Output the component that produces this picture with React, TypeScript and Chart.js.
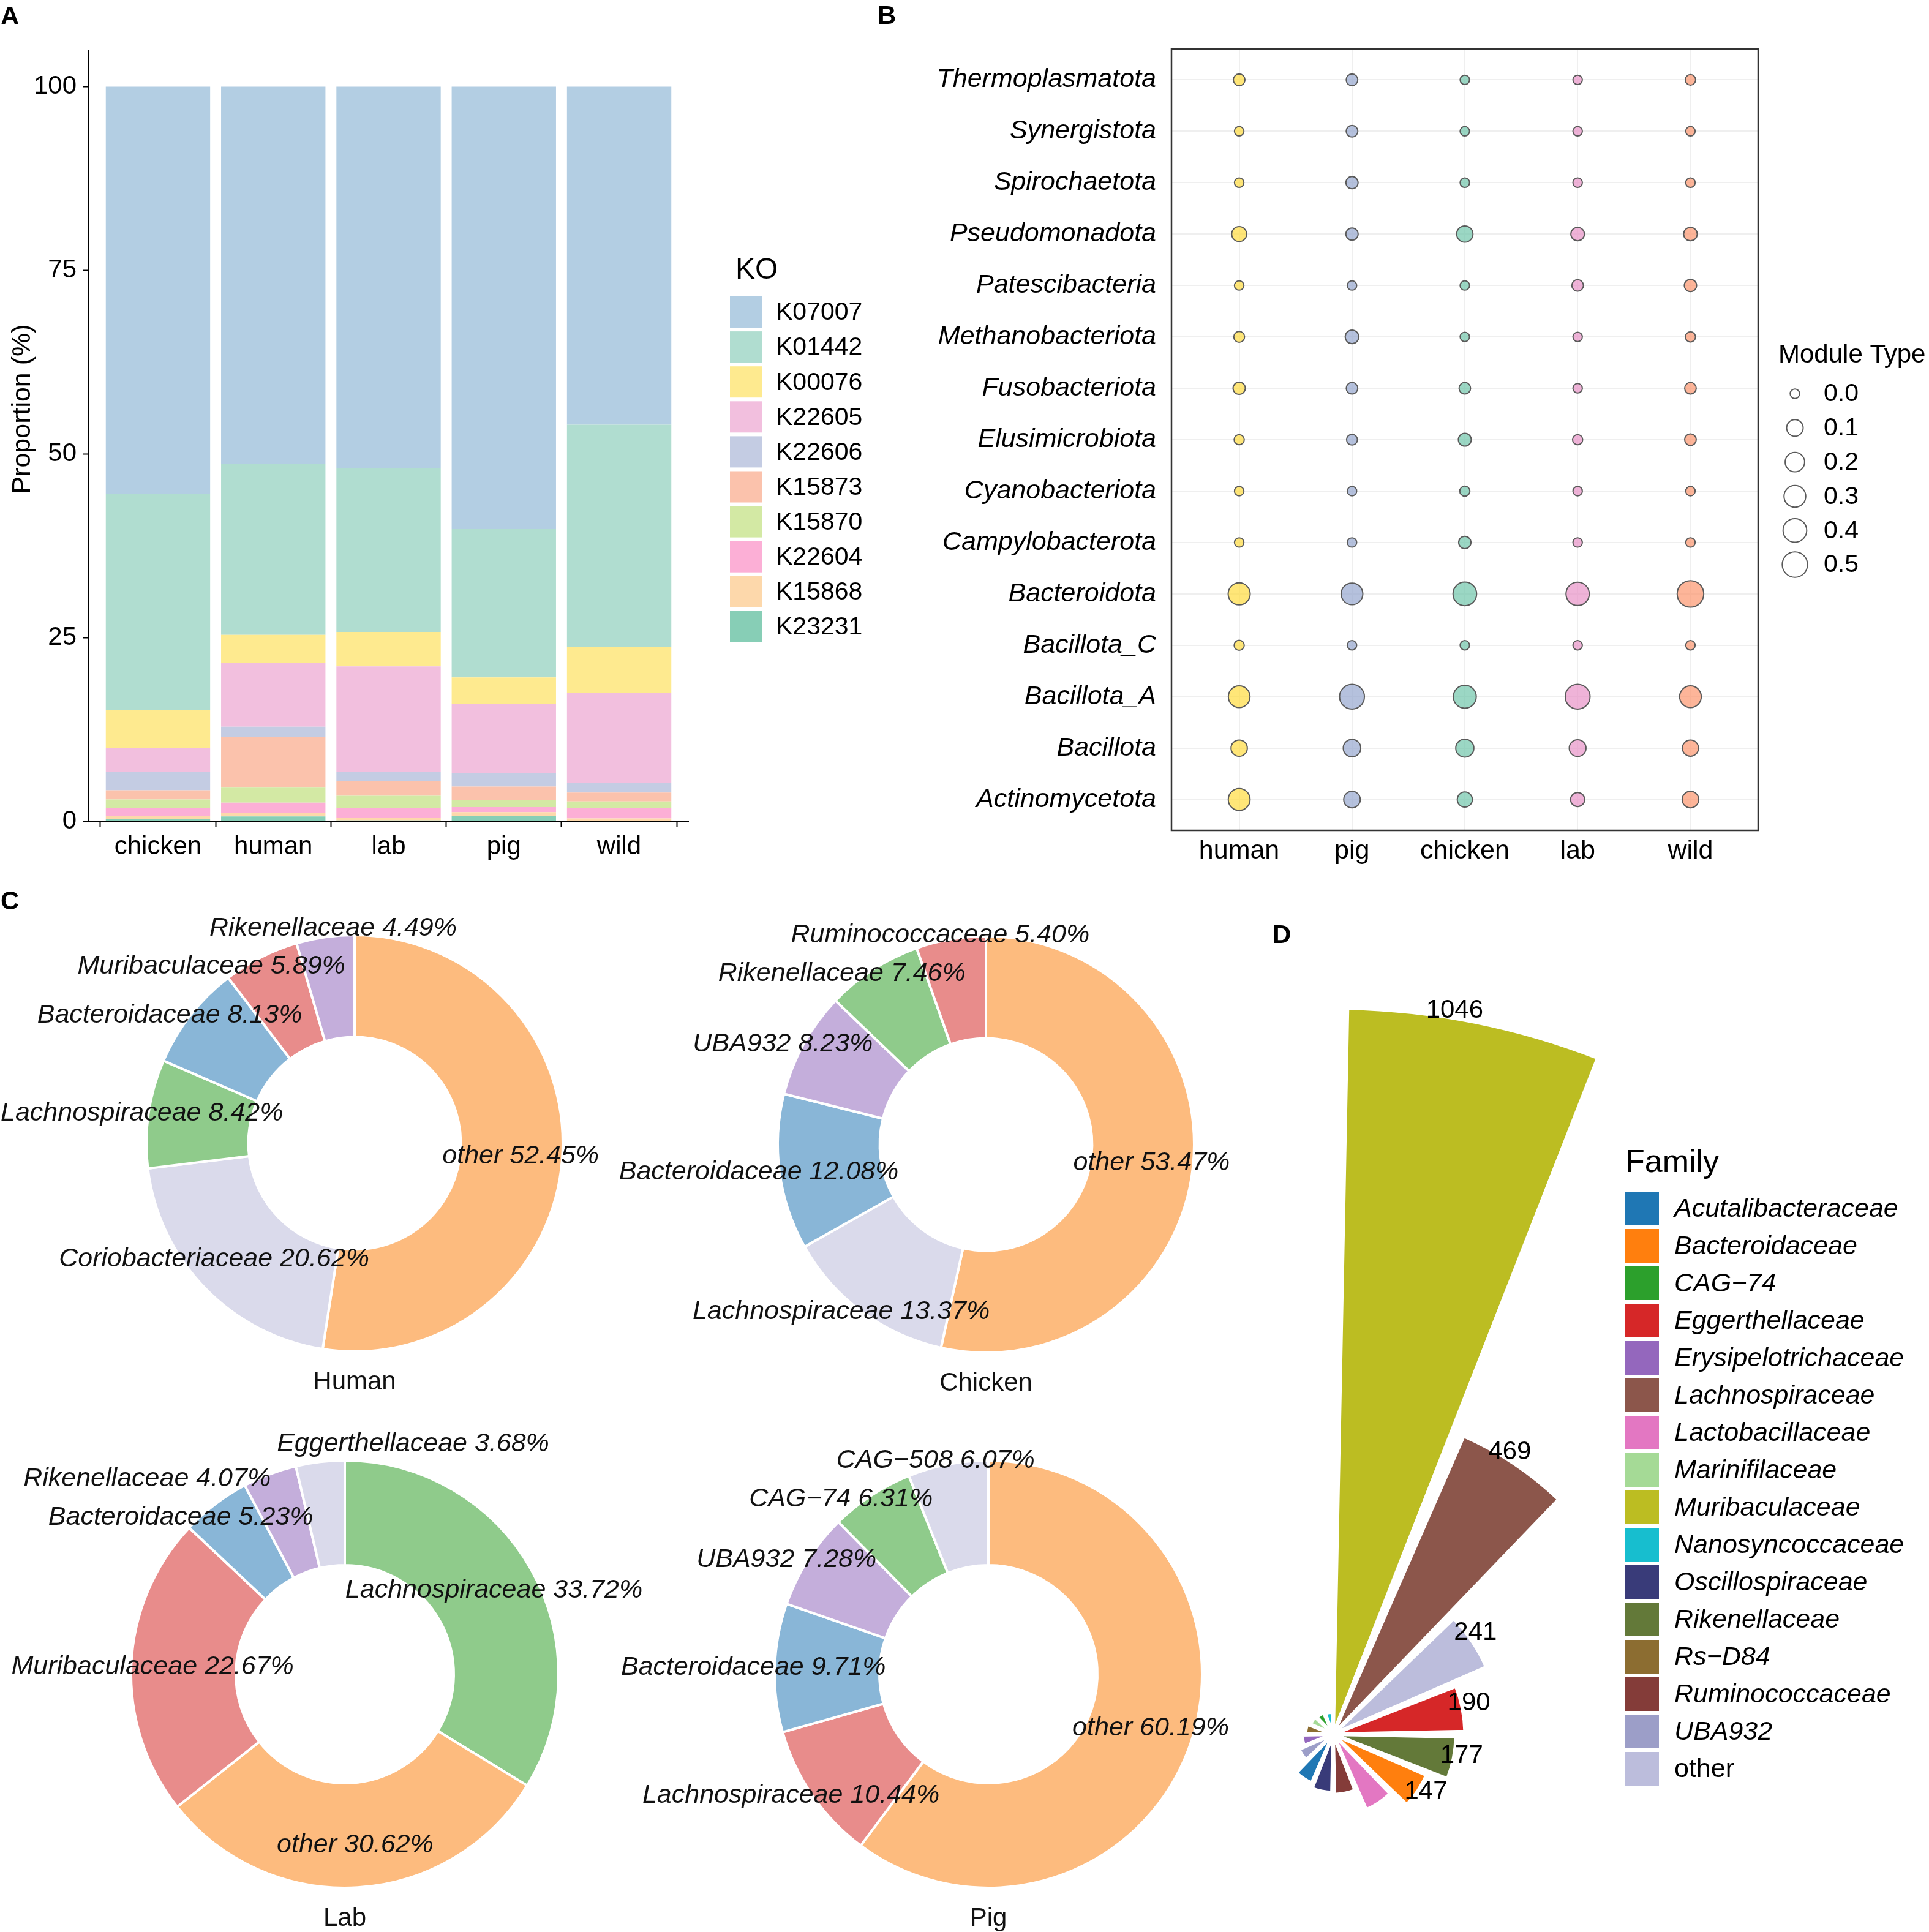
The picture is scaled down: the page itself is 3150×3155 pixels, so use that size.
import React, { useEffect, useRef } from "react";
import { Chart, registerables } from "chart.js";

Chart.register(...registerables);

const FONT = "'Liberation Sans', Arial, Helvetica, sans-serif";

// ---------------- Panel A : KO proportions ----------------
const A_HOSTS = ["chicken", "human", "lab", "pig", "wild"];
const KO_NAMES = ["K07007", "K01442", "K00076", "K22605", "K22606", "K15873", "K15870", "K22604", "K15868", "K23231"];
const K07007 = [55.4, 51.3, 51.9, 60.2, 46.0];
const K01442 = [29.4, 23.3, 22.3, 20.2, 30.2];
const K00076 = [5.2, 3.8, 4.7, 3.6, 6.3];
const K22605 = [3.2, 8.7, 14.36, 9.44, 12.28];
const K22606 = [2.55, 1.4, 1.19, 1.81, 1.28];
const K15873 = [1.25, 6.9, 2.05, 1.81, 1.22];
const K15870 = [1.2, 2.04, 1.67, 0.98, 0.92];
const K22604 = [1.05, 1.43, 1.33, 0.68, 1.38];
const K15868 = [0.45, 0.45, 0.36, 0.53, 0.3];
const K23231 = [0.3, 0.68, 0.14, 0.75, 0.12];
const KO_SERIES = [K07007, K01442, K00076, K22605, K22606, K15873, K15870, K22604, K15868, K23231];
const KO_COLORS = ["#B3CEE3", "#B0DDD0", "#FEEA8F", "#F2BFDE", "#C4CCE3", "#FBC2AC", "#D3E9A4", "#FCAFD6", "#FDD8AB", "#87CEB6"];
const A_Y_TICKS = [0, 25, 50, 75, 100];

// ---------------- Panel B : module type bubbles ----------------
const B_HOSTS = ["human", "pig", "chicken", "lab", "wild"];
const PHYLA = [
  "Thermoplasmatota", "Synergistota", "Spirochaetota", "Pseudomonadota", "Patescibacteria",
  "Methanobacteriota", "Fusobacteriota", "Elusimicrobiota", "Cyanobacteriota", "Campylobacterota",
  "Bacteroidota", "Bacillota_C", "Bacillota_A", "Bacillota", "Actinomycetota",
];
const B_HUMAN = [0.01, 0.0, 0.0, 0.06, 0.0, 0.004, 0.016, 0.001, 0.0, 0.0, 0.315, 0.001, 0.297, 0.093, 0.303];
const B_PIG = [0.01, 0.01, 0.015, 0.016, 0.0, 0.034, 0.009, 0.004, 0.0, 0.0, 0.297, 0.0, 0.47, 0.129, 0.1];
const B_CHICKEN = [0.0, 0.0, 0.0, 0.093, 0.0, 0.0, 0.009, 0.024, 0.001, 0.016, 0.4, 0.0, 0.36, 0.15, 0.063];
const B_LAB = [0.0, 0.0, 0.0, 0.034, 0.009, 0.0, 0.0, 0.001, 0.0, 0.0, 0.379, 0.0, 0.47, 0.107, 0.043];
const B_WILD = [0.002, 0.0, 0.0, 0.034, 0.016, 0.001, 0.009, 0.009, 0.0, 0.0, 0.582, 0.0, 0.297, 0.09, 0.1];
const B_SERIES = [B_HUMAN, B_PIG, B_CHICKEN, B_LAB, B_WILD];
const B_FILLS = ["rgba(255,217,47,0.65)", "rgba(141,160,203,0.65)", "rgba(102,194,165,0.65)", "rgba(231,138,195,0.65)", "rgba(252,141,98,0.65)"];
const SIZE_BREAKS = [0, 0.1, 0.2, 0.3, 0.4, 0.5];

// ---------------- Panel C : family donuts ----------------
const HUMAN_FAMILIES = ["other", "Coriobacteriaceae", "Lachnospiraceae", "Bacteroidaceae", "Muribaculaceae", "Rikenellaceae"];
const HUMAN_SHARE = [52.45, 20.62, 8.42, 8.13, 5.89, 4.49];
const CHICKEN_FAMILIES = ["other", "Lachnospiraceae", "Bacteroidaceae", "UBA932", "Rikenellaceae", "Ruminococcaceae"];
const CHICKEN_SHARE = [53.47, 13.37, 12.08, 8.23, 7.46, 5.4];
const LAB_FAMILIES = ["Lachnospiraceae", "other", "Muribaculaceae", "Bacteroidaceae", "Rikenellaceae", "Eggerthellaceae"];
const LAB_SHARE = [33.72, 30.62, 22.67, 5.23, 4.07, 3.68];
const PIG_FAMILIES = ["other", "Lachnospiraceae", "Bacteroidaceae", "UBA932", "CAG\u221274", "CAG\u2212508"];
const PIG_SHARE = [60.19, 10.44, 9.71, 7.28, 6.31, 6.07];
const C_ORANGE = "#FDBB7E", C_LAV = "#DADAEB", C_GREEN = "#8FCB8B", C_BLUE = "#89B6D7", C_RED = "#E88C8B", C_PURPLE = "#C4AEDB";
const HUMAN_COLORS = [C_ORANGE, C_LAV, C_GREEN, C_BLUE, C_RED, C_PURPLE];
const CHICKEN_COLORS = [C_ORANGE, C_LAV, C_BLUE, C_PURPLE, C_GREEN, C_RED];
const LAB_COLORS = [C_GREEN, C_ORANGE, C_RED, C_BLUE, C_PURPLE, C_LAV];
const PIG_COLORS = [C_ORANGE, C_RED, C_BLUE, C_PURPLE, C_GREEN, C_LAV];

// ---------------- Panel D : family counts (polar) ----------------
const FAMILIES = [
  "Acutalibacteraceae", "Bacteroidaceae", "CAG\u221274", "Eggerthellaceae", "Erysipelotrichaceae",
  "Lachnospiraceae", "Lactobacillaceae", "Marinifilaceae", "Muribaculaceae", "Nanosyncoccaceae",
  "Oscillospiraceae", "Rikenellaceae", "Rs\u2212D84", "Ruminococcaceae", "UBA932", "other",
];
const FAMILY_COUNTS = [77, 147, 34, 190, 45, 469, 119, 36, 1046, 32, 84, 177, 40, 87, 54, 241];
const FAMILY_COLORS = [
  "#1F77B4", "#FF7F0E", "#2CA02C", "#D62728", "#9467BD", "#8C564B", "#E377C2", "#A5DA96",
  "#BCBD22", "#17BECF", "#393B79", "#637939", "#8C6D31", "#843C39", "#9C9EC8", "#BCBDDC",
];
const LABELLED_TOP = 6;

// ------------------------------------------------------------
const sizeOf = (v: number) => 7.7 + 18.35 * Math.sqrt(Math.max(v, 0));

type Box = { left: number; top: number; width: number; height: number };

function ChartBox({ box, make }: { box: Box; make: () => any }) {
  const ref = useRef<HTMLCanvasElement>(null);
  useEffect(() => {
    const chart = new Chart(ref.current as HTMLCanvasElement, make());
    return () => chart.destroy();
  }, []);
  return (
    <canvas
      ref={ref}
      width={box.width}
      height={box.height}
      style={{ position: "absolute", left: box.left, top: box.top, width: box.width, height: box.height }}
    />
  );
}

const baseOptions = {
  animation: false,
  responsive: false,
  maintainAspectRatio: false,
  devicePixelRatio: 1,
  events: [],
};

// ---------- A ----------
const BOX_A: Box = { left: 0, top: 0, width: 1420, height: 1420 };
function makeA() {
  const order = KO_NAMES.map((_, i) => i).reverse();
  const datasets = order.map((i) => ({
    label: KO_NAMES[i],
    data: KO_SERIES[i].map((v, h) => ({ x: h, y: v })),
    backgroundColor: KO_COLORS[i],
    borderWidth: 0,
    barPercentage: 0.905,
    categoryPercentage: 1,
  }));
  const axisGrid = { display: true, drawOnChartArea: false, drawTicks: true, tickLength: 9, tickColor: "#000", tickWidth: 2 };
  const axisBorder = { display: true, color: "#000", width: 2 };
  const legendPlugin = {
    id: "legendA",
    afterDraw(chart: any) {
      const ctx = chart.ctx;
      ctx.save();
      ctx.fillStyle = "#000";
      ctx.textBaseline = "middle";
      ctx.textAlign = "left";
      ctx.font = `48px ${FONT}`;
      ctx.fillText("KO", 1201, 442);
      ctx.font = `41px ${FONT}`;
      KO_NAMES.forEach((name, i) => {
        const top = 484 + i * 57.1;
        ctx.fillStyle = KO_COLORS[i];
        ctx.fillRect(1192, top, 52, 51);
        ctx.fillStyle = "#000";
        ctx.fillText(name, 1267, top + 27);
      });
      ctx.save();
      ctx.translate(37, 668);
      ctx.rotate(-Math.PI / 2);
      ctx.textAlign = "center";
      ctx.font = `43px ${FONT}`;
      ctx.fillText("Proportion (%)", 0, 0);
      ctx.restore();
      ctx.restore();
    },
  };
  return {
    type: "bar",
    data: { datasets },
    options: {
      ...baseOptions,
      layout: { padding: { left: 0, top: 81.5, right: BOX_A.width - 1124, bottom: 0 } },
      plugins: { legend: { display: false }, tooltip: { enabled: false } },
      scales: {
        x: {
          type: "linear",
          min: -0.6,
          max: 4.6,
          offset: false,
          stacked: true,
          afterBuildTicks: (s: any) => {
            s.ticks = A_HOSTS.map((_, i) => ({ value: i }));
          },
          afterFit: (s: any) => {
            s.height = 78.5;
          },
          ticks: {
            callback: (v: any) => A_HOSTS[v],
            font: { family: FONT, size: 42 },
            color: "#000",
            padding: 8,
            maxRotation: 0,
            autoSkip: false,
          },
          grid: axisGrid,
          border: axisBorder,
        },
        y: {
          type: "linear",
          min: 0,
          max: 105,
          stacked: true,
          afterBuildTicks: (s: any) => {
            s.ticks = A_Y_TICKS.map((v) => ({ value: v }));
          },
          afterFit: (s: any) => {
            s.width = 145;
          },
          ticks: { callback: (v: any) => String(v), font: { family: FONT, size: 42 }, color: "#000", padding: 11 },
          grid: axisGrid,
          border: axisBorder,
        },
      },
    },
    plugins: [legendPlugin],
  };
}

// ---------- B ----------
const BOX_B: Box = { left: 1150, top: 0, width: 2000, height: 1420 };
function makeB() {
  const datasets = B_HOSTS.map((h, hi) => ({
    label: h,
    data: PHYLA.map((_, pi) => ({ x: hi, y: pi, r: sizeOf(B_SERIES[hi][pi]) })),
    backgroundColor: B_FILLS[hi],
    borderColor: "#5a5a5a",
    borderWidth: 2,
    clip: false,
  }));
  const framePlugin = {
    id: "frameB",
    afterDraw(chart: any) {
      const ctx = chart.ctx;
      const a = chart.chartArea;
      ctx.save();
      ctx.strokeStyle = "#333";
      ctx.lineWidth = 2.5;
      ctx.strokeRect(a.left, a.top, a.right - a.left, a.bottom - a.top);
      ctx.fillStyle = "#000";
      ctx.textBaseline = "middle";
      ctx.textAlign = "left";
      ctx.font = `42px ${FONT}`;
      ctx.fillText("Module Type", 1754, 580);
      ctx.font = `41px ${FONT}`;
      SIZE_BREAKS.forEach((b, i) => {
        const cy = 643 + i * 55.8;
        ctx.beginPath();
        ctx.arc(1781, cy, sizeOf(b), 0, Math.PI * 2);
        ctx.strokeStyle = "#5a5a5a";
        ctx.lineWidth = 2;
        ctx.stroke();
        ctx.fillStyle = "#000";
        ctx.fillText(b.toFixed(1), 1828, cy + 1);
      });
      ctx.restore();
    },
  };
  return {
    type: "bubble",
    data: { datasets },
    options: {
      ...baseOptions,
      layout: { padding: { left: 0, top: 80, right: 279, bottom: 0 } },
      plugins: { legend: { display: false }, tooltip: { enabled: false } },
      scales: {
        x: {
          type: "linear",
          min: -0.6,
          max: 4.6,
          afterBuildTicks: (s: any) => {
            s.ticks = B_HOSTS.map((_, i) => ({ value: i }));
          },
          afterFit: (s: any) => {
            s.height = 64;
          },
          ticks: { callback: (v: any) => B_HOSTS[v], font: { family: FONT, size: 43 }, color: "#000", padding: 8, maxRotation: 0, autoSkip: false },
          grid: { color: "#EFEFEF", lineWidth: 2, drawTicks: false },
          border: { display: false },
        },
        y: {
          type: "linear",
          min: -0.6,
          max: 14.6,
          reverse: true,
          afterBuildTicks: (s: any) => {
            s.ticks = PHYLA.map((_, i) => ({ value: i }));
          },
          afterFit: (s: any) => {
            s.width = 763;
          },
          ticks: { callback: (v: any) => PHYLA[v], font: { family: FONT, size: 43, style: "italic" }, color: "#000", padding: 25, autoSkip: false },
          grid: { color: "#EFEFEF", lineWidth: 2, drawTicks: false },
          border: { display: false },
        },
      },
    },
    plugins: [framePlugin],
  };
}

// ---------- C ----------
function makeDonut(title: string, names: string[], shares: number[], colors: string[], radius: number, minX: number) {
  const labelPlugin = {
    id: "donutLabels",
    afterDatasetsDraw(chart: any) {
      const meta = chart.getDatasetMeta(0);
      const ctx = chart.ctx;
      const total = shares.reduce((a, b) => a + b, 0);
      ctx.save();
      ctx.font = `italic 43px ${FONT}`;
      const items = meta.data.map((arc: any, i: number) => {
        const mid = (arc.startAngle + arc.endAngle) / 2;
        const R = arc.outerRadius;
        const rr = shares[i] / total >= 0.15 ? 0.8 : 1.0;
        let x = arc.x + Math.cos(mid) * R * rr;
        const y = arc.y + Math.sin(mid) * R * rr;
        if (Math.cos(mid) < -0.05) x -= 0.1 * R;
        const text = `${names[i]} ${shares[i].toFixed(2)}%`;
        return { text, x, y, w: ctx.measureText(text).width + 10, h: 62 };
      });
      // simple repulsion along the line joining overlapping labels
      for (let it = 0; it < 800; it++) {
        let moved = false;
        for (let i = 0; i < items.length; i++) {
          for (let j = i + 1; j < items.length; j++) {
            const a = items[i], b = items[j];
            const ox = (a.w + b.w) / 2 - Math.abs(a.x - b.x);
            const oy = (a.h + b.h) / 2 - Math.abs(a.y - b.y);
            if (ox > 0 && oy > 0) {
              const dx = b.x - a.x, dy = b.y - a.y;
              const len = Math.hypot(dx, dy) || 1;
              const ux = dx / len, uy = dy / len;
              a.x -= ux; a.y -= uy;
              b.x += ux; b.y += uy;
              moved = true;
            }
          }
        }
        if (!moved) break;
      }
      ctx.fillStyle = "#111";
      ctx.textAlign = "center";
      ctx.textBaseline = "middle";
      items.forEach((it: any) => {
        const half = (it.w - 10) / 2;
        const x = Math.max(it.x, minX + half);
        ctx.fillText(it.text, x, it.y);
      });
      const arc0 = meta.data[0];
      ctx.font = `42px ${FONT}`;
      ctx.fillText(title, arc0.x, arc0.y + arc0.outerRadius + 50);
      ctx.restore();
    },
  };
  return () => ({
    type: "doughnut",
    data: {
      labels: names,
      datasets: [{ data: shares, backgroundColor: colors, borderColor: "#fff", borderWidth: 4 }],
    },
    options: {
      ...baseOptions,
      radius,
      cutout: "51%",
      plugins: { legend: { display: false }, tooltip: { enabled: false } },
    },
    plugins: [labelPlugin],
  });
}

const DW = 1400, DH = 880;
const donutBox = (cx: number, cy: number): Box => ({ left: cx - DW / 2, top: cy - DH / 2, width: DW, height: DH });
const pageMinX = (cx: number) => DW / 2 - cx + 1;

// ---------- D ----------
const PR = 1186;
const PPAD = 120;
const D_CX = 2177, D_CY = 2832;
const BOX_D: Box = { left: D_CX - PR - PPAD, top: D_CY - PR - PPAD, width: 2 * (PR + PPAD), height: 2 * (PR + PPAD) };
function makeD() {
  const order = FAMILY_COUNTS.map((_, i) => i).sort((a, b) => FAMILY_COUNTS[b] - FAMILY_COUNTS[a]);
  const values: number[] = [];
  const colors: string[] = [];
  const names: string[] = [];
  order.forEach((i) => {
    values.push(FAMILY_COUNTS[i], 0);
    colors.push(FAMILY_COLORS[i], "rgba(0,0,0,0)");
    names.push(FAMILIES[i], "");
  });
  const ox = BOX_D.left, oy = BOX_D.top;
  const plugin = {
    id: "polarExtras",
    afterDatasetsDraw(chart: any) {
      const meta = chart.getDatasetMeta(0);
      const ctx = chart.ctx;
      ctx.save();
      ctx.fillStyle = "#000";
      ctx.textAlign = "center";
      ctx.textBaseline = "middle";
      ctx.font = `42px ${FONT}`;
      for (let k = 0; k < LABELLED_TOP; k++) {
        const arc = meta.data[2 * k];
        const mid = (arc.startAngle + arc.endAngle) / 2 - 0.03;
        const rr = arc.outerRadius + 12;
        ctx.fillText(String(values[2 * k]), arc.x + Math.cos(mid) * rr, arc.y + Math.sin(mid) * rr);
      }
      ctx.textAlign = "left";
      ctx.font = `52px ${FONT}`;
      ctx.fillText("Family", 2654 - ox, 1900 - oy);
      FAMILIES.forEach((f, i) => {
        const top = 1946 - oy + i * 61;
        ctx.fillStyle = FAMILY_COLORS[i];
        ctx.fillRect(2653 - ox, top, 56, 55);
        ctx.fillStyle = "#000";
        ctx.font = f === "other" ? `43px ${FONT}` : `italic 43px ${FONT}`;
        ctx.fillText(f, 2734 - ox, top + 29);
      });
      ctx.restore();
    },
  };
  return {
    type: "polarArea",
    data: {
      labels: names,
      datasets: [
        {
          data: values,
          backgroundColor: colors,
          borderColor: "#fff",
          borderWidth: (c: any) => (c.dataIndex % 2 ? 0 : 6),
          angle: (c: any) => (c.dataIndex % 2 ? 2.25 : 20.25),
        },
      ],
    },
    options: {
      ...baseOptions,
      layout: { padding: PPAD },
      plugins: { legend: { display: false }, tooltip: { enabled: false } },
      scales: {
        r: {
          display: false,
          min: 0,
          max: Math.max(...FAMILY_COUNTS),
          startAngle: 1.125,
        },
      },
    },
    plugins: [plugin],
  };
}

const letterStyle = (left: number, top: number): React.CSSProperties => ({
  position: "absolute",
  left,
  top,
  font: `bold 42px ${FONT}`,
  lineHeight: "42px",
  color: "#000",
});

export default function App() {
  return (
    <div style={{ position: "fixed", left: 0, top: 0, width: 3150, height: 3155, overflow: "hidden", background: "#fff" }}>
      <ChartBox box={BOX_A} make={makeA} />
      <ChartBox box={BOX_B} make={makeB} />
      <ChartBox box={donutBox(579, 1867)} make={makeDonut("Human", HUMAN_FAMILIES, HUMAN_SHARE, HUMAN_COLORS, 340, pageMinX(579))} />
      <ChartBox box={donutBox(1610, 1869)} make={makeDonut("Chicken", CHICKEN_FAMILIES, CHICKEN_SHARE, CHICKEN_COLORS, 340, 0)} />
      <ChartBox box={donutBox(563, 2734)} make={makeDonut("Lab", LAB_FAMILIES, LAB_SHARE, LAB_COLORS, 349, pageMinX(563))} />
      <ChartBox box={donutBox(1614, 2734)} make={makeDonut("Pig", PIG_FAMILIES, PIG_SHARE, PIG_COLORS, 349, 0)} />
      <ChartBox box={BOX_D} make={makeD} />
      <div style={letterStyle(1, 5)}>A</div>
      <div style={letterStyle(1433, 4)}>B</div>
      <div style={letterStyle(1, 1450)}>C</div>
      <div style={letterStyle(2078, 1505)}>D</div>
    </div>
  );
}
